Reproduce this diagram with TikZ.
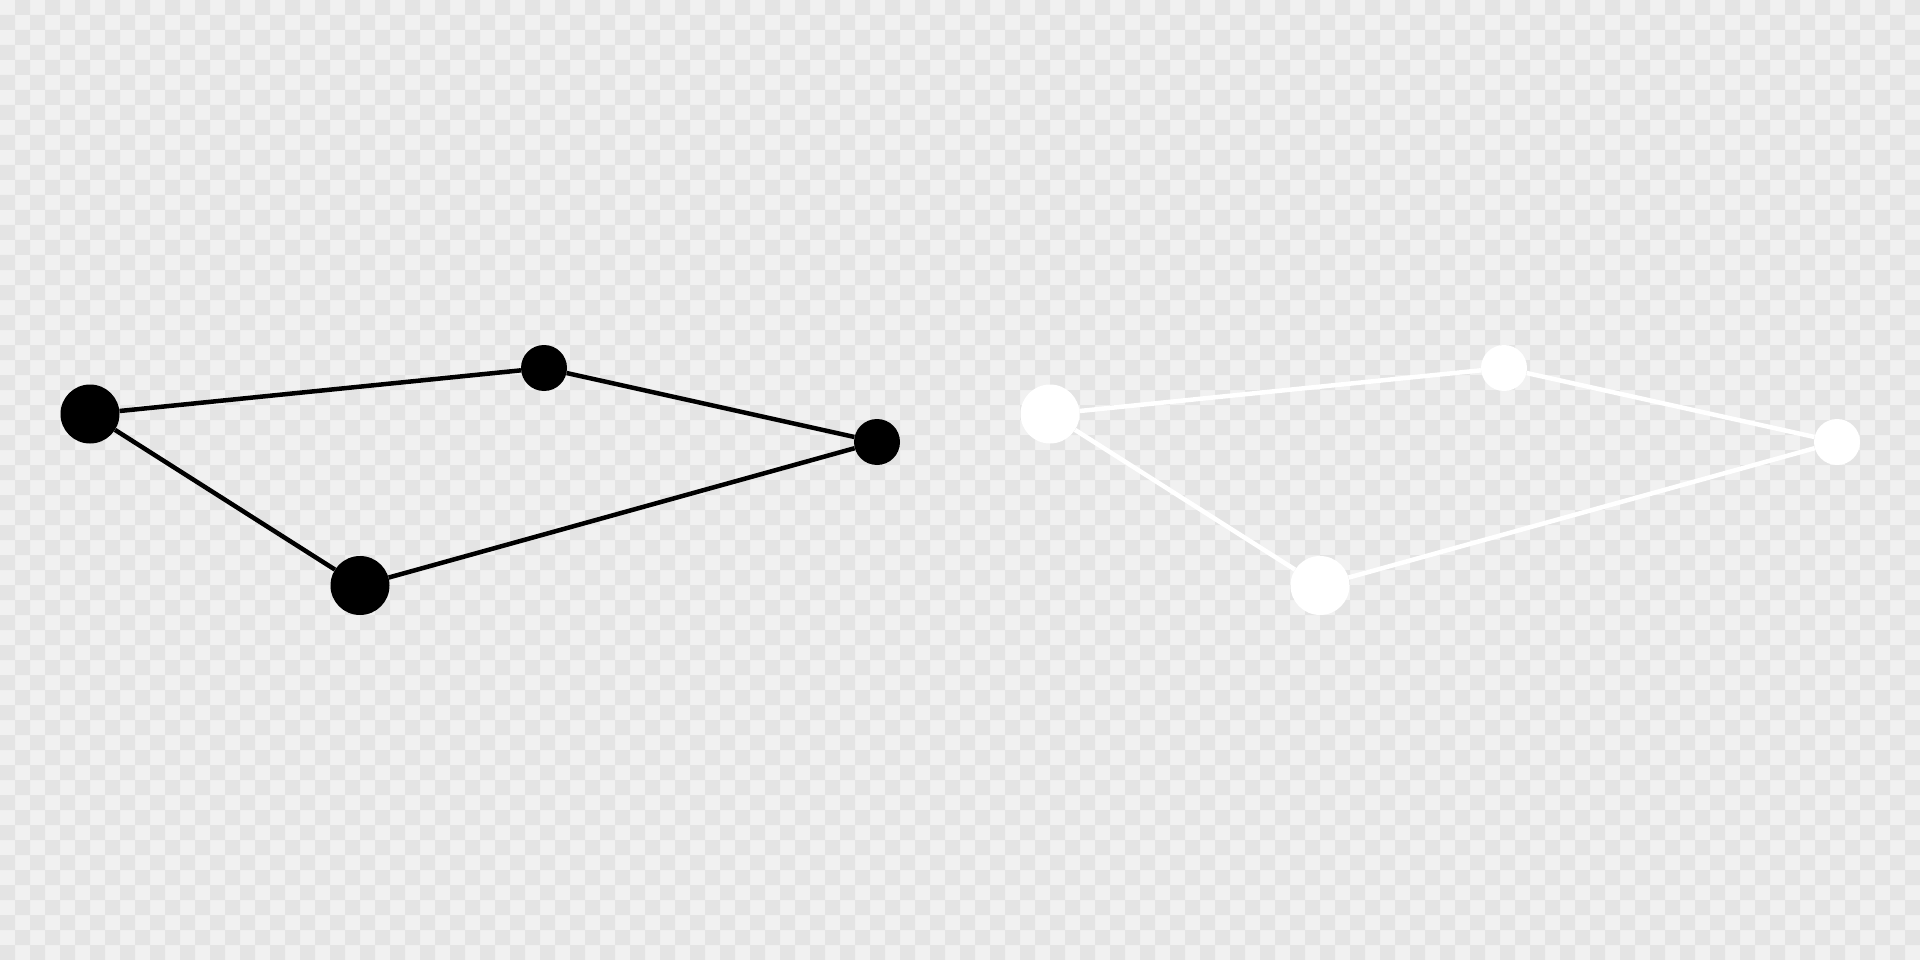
\documentclass[tikz,border=0pt]{standalone}
\definecolor{chkdark}{HTML}{E4E4E4}
\definecolor{chklight}{HTML}{F1F1F1}
\tikzset{
  star/.style={circle,inner sep=0pt,minimum size=#1},
  bigstar/.style={star=59pt},
  smallstar/.style={star=46pt},
  link/.style={line width=4.5pt}
}
\begin{document}
\begin{tikzpicture}[x=1pt,y=-1pt]
\useasboundingbox (0,0) rectangle (1920,960);
\fill[chklight] (0,0) rectangle (1920,960);
\fill[chkdark] \foreach \i in {0,...,127} {\foreach \j in {0,...,63} {
  \ifodd\numexpr\i+\j\relax (\i*15,\j*15) rectangle ++(15,15) \fi }};
% black constellation
\begin{scope}[every node/.append style={fill=black}]
\node[bigstar] (a1) at (90,414) {};
\node[smallstar] (b1) at (544,368) {};
\node[smallstar] (c1) at (877,442) {};
\node[bigstar] (d1) at (360,585.5) {};
\end{scope}
\draw[link,black] (a1) -- (b1) -- (c1) -- (d1) -- (a1);
% white constellation
\begin{scope}[every node/.append style={fill=white}]
\node[bigstar] (a2) at (1050,414) {};
\node[smallstar] (b2) at (1504,368) {};
\node[smallstar] (c2) at (1837,442) {};
\node[bigstar] (d2) at (1320,585.5) {};
\end{scope}
\draw[link,white] (a2) -- (b2) -- (c2) -- (d2) -- (a2);
\end{tikzpicture}
\end{document}
